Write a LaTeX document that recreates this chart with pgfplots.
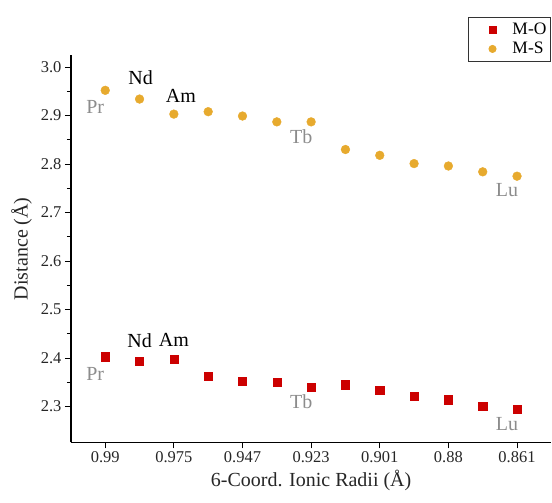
\documentclass[border=0pt]{standalone}
\usepackage{pgfplots}
\pgfplotsset{compat=1.18}
\usepackage{fontspec}
\setmainfont{Liberation Serif}
\definecolor{mored}{RGB}{204,0,0}
\definecolor{msgold}{RGB}{231,170,46}
\definecolor{lblgray}{RGB}{140,140,140}

\begin{document}
\begin{tikzpicture}[x=1pt,y=1pt]
\begin{axis}[
    at={(0,0)}, anchor=south west,
    scale only axis,
    width=481pt, height=388pt,
    xmin=-1, xmax=13,
    ymin=2.226, ymax=3.025,
    axis x line*=bottom, axis y line*=left,
    axis line style={line width=1.3pt, -},
    xtick={0,2,4,6,8,10,12},
    xticklabels={0.99,0.975,0.947,0.923,0.901,0.88,0.861},
    ytick={2.3,2.4,2.5,2.6,2.7,2.8,2.9,3.0},
    yticklabel style={/pgf/number format/.cd,fixed,fixed zerofill,precision=1},
    minor y tick num=1,
    tick align=outside,
    major tick length=6pt, minor tick length=4pt,
    tick style={line width=1pt, black},
    /pgf/number format/assume math mode=true,
    tick label style={font=\fontsize{16.5}{18}\selectfont, text=black!85},
    xlabel={6-Coord. Ionic Radii (Å)},
    ylabel={Distance (Å)},
    label style={font=\fontsize{20}{22}\selectfont, text=black!85},
    xlabel style={yshift=0pt},
    ylabel style={yshift=2pt},
    clip=false,
    legend style={at={(rel axis cs:0.999,1.098)}, anchor=north east,
        draw=black!80, line width=0.8pt, font=\fontsize{17.5}{19}\selectfont,
        row sep=2pt, inner xsep=2pt, inner ysep=4pt, cells={anchor=west}},
    legend image code/.code={
        \path[draw=none, fill=none] (0pt,0pt) -- (40pt,0pt);
        \path[#1, only marks, mark size=3.6pt] plot coordinates {(22pt,0pt)};
    },
    legend cell align=left,
]
\addplot[only marks, mark=square*, mark size=4.1pt, color=mored] coordinates {
    (0,2.403) (1,2.393) (2,2.398) (3,2.363) (4,2.353) (5,2.350) (6,2.340)
    (7,2.345) (8,2.333) (9,2.322) (10,2.314) (11,2.301) (12,2.295)
};
\addlegendentry{M-O}
\addplot[only marks, mark=*, mark size=4.4pt, color=msgold] coordinates {
    (0,2.952) (1,2.934) (2,2.903) (3,2.908) (4,2.899) (5,2.887) (6,2.887)
    (7,2.830) (8,2.818) (9,2.801) (10,2.796) (11,2.784) (12,2.775)
};
\addlegendentry{M-S}

\begin{scope}[every node/.style={font=\fontsize{20}{22}\selectfont, inner sep=0pt}]
% M-S labels
\node[text=lblgray] at ([shift={(-10pt,-17pt)}]axis cs:0,2.952) {Pr};
\node[text=black] at ([shift={(1pt,21pt)}]axis cs:1,2.934) {Nd};
\node[text=black] at ([shift={(7pt,18pt)}]axis cs:2,2.903) {Am};
\node[text=lblgray] at ([shift={(-10pt,-15pt)}]axis cs:6,2.887) {Tb};
\node[text=lblgray] at ([shift={(-10pt,-14pt)}]axis cs:12,2.775) {Lu};
% M-O labels
\node[text=lblgray] at ([shift={(-10pt,-17pt)}]axis cs:0,2.403) {Pr};
\node[text=black] at ([shift={(0pt,21pt)}]axis cs:1,2.393) {Nd};
\node[text=black] at ([shift={(0pt,19pt)}]axis cs:2,2.398) {Am};
\node[text=lblgray] at ([shift={(-10pt,-15pt)}]axis cs:6,2.340) {Tb};
\node[text=lblgray] at ([shift={(-10pt,-15pt)}]axis cs:12,2.295) {Lu};
\end{scope}
\end{axis}
\useasboundingbox (-71,-60) rectangle (481,443);
\end{tikzpicture}
\end{document}
